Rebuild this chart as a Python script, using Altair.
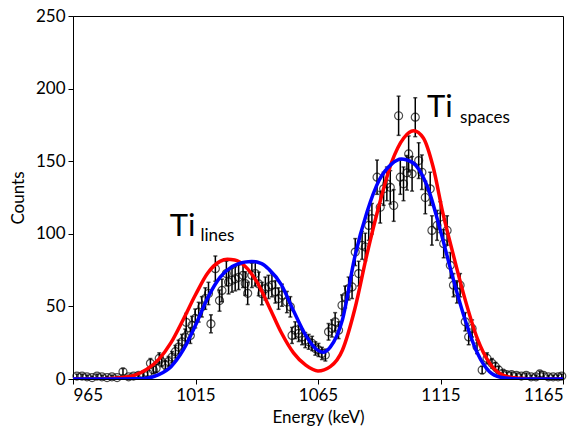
import altair as alt
import pandas as pd

# ---- measured data points (energy keV, counts, error) ----
energy = [966.6, 968.7, 970.7, 972.8, 974.8, 976.8, 978.9, 980.9, 983.0, 985.4,
          987.7, 989.7, 991.8, 993.8, 995.5, 996.6, 997.8, 998.9, 1000.2, 1001.2,
          1002.7, 1004.0, 1005.4, 1006.8, 1008.1, 1009.5, 1010.8, 1011.2, 1012.9, 1013.6,
          1014.9, 1016.3, 1017.6, 1019.0, 1020.3, 1021.3, 1023.1, 1024.8, 1025.8, 1027.6,
          1028.5, 1029.9, 1031.2, 1032.6, 1034.4, 1035.3, 1036.3, 1038.0, 1039.4, 1040.8,
          1042.1, 1043.5, 1044.8, 1046.2, 1047.6, 1048.9, 1050.3, 1052.3, 1053.7, 1054.4,
          1055.7, 1057.1, 1058.5, 1059.8, 1061.2, 1062.6, 1063.9, 1065.2, 1066.6, 1068.0,
          1069.3, 1070.7, 1072.0, 1073.4, 1074.8, 1076.1, 1077.5, 1078.9, 1080.2, 1081.6,
          1083.0, 1084.3, 1085.7, 1087.0, 1089.1, 1090.4, 1091.8, 1093.1, 1094.5, 1095.9,
          1097.9, 1098.6, 1099.9, 1101.3, 1102.0, 1103.4, 1104.7, 1106.1, 1107.4, 1108.8,
          1110.8, 1111.5, 1113.6, 1114.9, 1116.3, 1117.7, 1119.0, 1120.3, 1121.7, 1123.0,
          1125.1, 1126.5, 1127.9, 1129.9, 1132.0, 1134.0, 1136.0, 1137.4, 1138.7, 1140.5,
          1142.0, 1144.0, 1146.0, 1148.0, 1150.0, 1152.0, 1154.0, 1155.5, 1157.0, 1159.0,
          1161.0, 1163.0, 1164.5]
counts = [2.0, 2.0, 1.5, 1.0, 2.0, 1.5, 1.0, 1.5, 1.0, 5.0,
          1.5, 2.0, 2.5, 3.0, 4.0, 10.8, 6.2, 7.3, 14.2, 11.9,
          9.6, 12.0, 15.0, 18.8, 22.0, 25.6, 29.0, 39.0, 30.0, 37.0,
          41.7, 46.0, 49.7, 55.4, 58.9, 38.0, 76.0, 54.0, 61.0, 72.6,
          66.8, 68.0, 69.0, 70.0, 71.4, 65.7, 59.0, 71.4, 72.6, 65.5,
          58.8, 62.3, 63.4, 64.6, 60.0, 55.4, 57.7, 53.0, 49.7, 30.0,
          33.6, 31.4, 29.0, 26.8, 25.6, 24.5, 21.0, 20.0, 17.6, 16.5,
          32.5, 34.8, 39.4, 33.6, 50.8, 56.5, 62.3, 63.4, 87.4, 72.6,
          92.0, 90.9, 105.8, 110.4, 139.0, 118.3, 131.0, 134.4, 132.0, 119.5,
          181.3, 139.0, 134.4, 142.0, 155.0, 141.3, 180.3, 150.4, 142.4, 125.0,
          131.0, 102.3, 105.8, 111.5, 93.2, 102.3, 78.3, 64.6, 60.0, 64.6,
          39.4, 29.0, 34.8, 22.2, 6.2, 14.2, 10.8, 8.5, 6.2, 4.0,
          3.0, 3.0, 2.5, 2.0, 2.5, 1.5, 1.5, 3.5, 2.5, 1.5,
          1.5, 1.5, 2.0]
errors = [1.4, 1.4, 1.2, 1.0, 1.4, 1.2, 1.0, 1.2, 1.0, 2.2,
          1.2, 1.4, 1.6, 1.7, 2.0, 3.3, 2.5, 2.7, 3.8, 3.4,
          3.1, 3.5, 3.9, 4.3, 4.7, 5.1, 5.4, 6.2, 5.5, 6.1,
          6.5, 6.8, 7.0, 7.4, 7.7, 6.2, 8.7, 7.3, 7.8, 8.5,
          8.2, 8.2, 8.3, 8.4, 8.4, 8.1, 7.7, 8.4, 8.5, 8.1,
          7.7, 7.9, 8.0, 8.0, 7.7, 7.4, 7.6, 7.3, 7.0, 5.5,
          5.8, 5.6, 5.4, 5.2, 5.1, 4.9, 4.6, 4.5, 4.2, 4.1,
          5.7, 5.9, 6.3, 5.8, 7.1, 7.5, 7.9, 8.0, 9.3, 8.5,
          9.6, 9.5, 10.3, 10.5, 11.8, 10.9, 11.4, 11.6, 11.5, 10.9,
          13.5, 11.8, 11.6, 11.9, 12.4, 11.9, 13.4, 12.3, 11.9, 11.2,
          11.4, 10.1, 10.3, 10.6, 9.7, 10.1, 8.8, 8.0, 7.7, 8.0,
          6.3, 5.4, 5.9, 4.7, 2.5, 3.8, 3.3, 2.9, 2.5, 2.0,
          1.7, 1.7, 1.6, 1.4, 1.6, 1.2, 1.2, 1.9, 1.6, 1.2,
          1.2, 1.2, 1.4]

# ---- fit curves ----
red_x = [965, 975, 980, 985, 990, 995, 1000, 1005, 1010, 1015, 1020, 1025, 1028,
         1031, 1035, 1040, 1045, 1050, 1055, 1060, 1065, 1070, 1075, 1080, 1085,
         1090, 1095, 1100, 1104, 1108, 1112, 1116, 1120, 1125, 1130, 1135, 1140,
         1145, 1150, 1155, 1165]
red_y = [0, 0, 0.3, 1, 2.5, 6.5, 13.5, 25, 41, 58, 73, 81, 82.5,
         82, 78, 67, 50, 32, 18, 9.5, 5.5, 8.5, 20, 48, 86,
         120, 149, 166, 171, 166, 146, 114, 87, 55, 28, 11, 3,
         0.8, 0.2, 0, 0]
blue_x = [965, 985, 990, 995, 1000, 1005, 1010, 1015, 1020, 1025, 1030, 1035, 1038,
          1042, 1045, 1050, 1055, 1060, 1064, 1067, 1070, 1075, 1080, 1085, 1090,
          1095, 1099, 1101, 1105, 1110, 1115, 1120, 1125, 1130, 1135, 1140, 1145,
          1150, 1165]
blue_y = [0, 0, 0.1, 0.5, 3, 8.5, 20, 37, 56, 70, 77.5, 80.5, 81,
          79.5, 75.5, 65, 47, 30, 21, 18.5, 22, 41, 84, 115, 137,
          148, 151.5, 151, 147, 131, 102, 70, 41, 18, 5, 1, 0.2,
          0, 0]

# ---- annotations ----
ann_main = ["Ti", "Ti"]
ann_main_x = [1004.5, 1109.5]
ann_main_y = [98.5, 180.5]
ann_sub = ["lines", "spaces"]
ann_sub_x = [1017.0, 1123.0]
ann_sub_y = [95.0, 176.5]

FONT = "Lato"

pts = pd.DataFrame({"E": energy, "C": counts, "err": errors})
pts["lo"] = pts["C"] - pts["err"]
pts["hi"] = pts["C"] + pts["err"]
red = pd.DataFrame({"E": red_x, "C": red_y})
blue = pd.DataFrame({"E": blue_x, "C": blue_y})
main = pd.DataFrame({"E": ann_main_x, "C": ann_main_y, "t": ann_main})
sub = pd.DataFrame({"E": ann_sub_x, "C": ann_sub_y, "t": ann_sub})

xs = alt.Scale(domain=[965, 1165], nice=False, zero=False)
ys = alt.Scale(domain=[0, 250], nice=False)

xax = alt.Axis(values=[965, 1015, 1065, 1115, 1165], format="d", title="Energy (keV)",
               grid=False, tickSize=5, labelPadding=3, titlePadding=6,
               labelFont=FONT, titleFont=FONT, labelFontSize=17, titleFontSize=17,
               titleFontWeight="normal", labelColor="black", titleColor="black",
               domainColor="black", tickColor="black")
yax = alt.Axis(values=[0, 50, 100, 150, 200, 250], title="Counts", grid=False,
               tickSize=5, labelPadding=3, titlePadding=8,
               labelFont=FONT, titleFont=FONT, labelFontSize=17, titleFontSize=17,
               titleFontWeight="normal", labelColor="black", titleColor="black",
               domainColor="black", tickColor="black")

X = alt.X("E:Q", scale=xs, axis=xax)
Xn = alt.X("E:Q", scale=xs)

bars = alt.Chart(pts).mark_rule(color="black", strokeWidth=1.5).encode(
    x=X, y=alt.Y("lo:Q", scale=ys, axis=yax), y2="hi:Q")
cap_hi = alt.Chart(pts).mark_tick(color="black", orient="horizontal", size=4, thickness=1.5).encode(
    x=Xn, y=alt.Y("hi:Q", scale=ys))
cap_lo = alt.Chart(pts).mark_tick(color="black", orient="horizontal", size=4, thickness=1.5).encode(
    x=Xn, y=alt.Y("lo:Q", scale=ys))
circles = alt.Chart(pts).mark_point(shape="circle", filled=False, color="black",
                                    size=64, strokeWidth=1.2).encode(x=Xn, y=alt.Y("C:Q", scale=ys))
red_line = alt.Chart(red).mark_line(color="#ff0000", strokeWidth=3.5, interpolate="monotone",
                                    clip=True).encode(x=Xn, y=alt.Y("C:Q", scale=ys))
blue_line = alt.Chart(blue).mark_line(color="#0000ff", strokeWidth=3.5, interpolate="monotone",
                                      clip=True).encode(x=Xn, y=alt.Y("C:Q", scale=ys))
main_txt = alt.Chart(main).mark_text(align="left", baseline="alphabetic", font=FONT,
                                     fontSize=31, color="black").encode(
    x=Xn, y=alt.Y("C:Q", scale=ys), text="t:N")
sub_txt = alt.Chart(sub).mark_text(align="left", baseline="alphabetic", font=FONT,
                                   fontSize=17, color="black").encode(
    x=Xn, y=alt.Y("C:Q", scale=ys), text="t:N")

chart = alt.layer(bars, cap_hi, cap_lo, circles, red_line, blue_line, main_txt, sub_txt).properties(
    width=490, height=363,
    background="white",
    autosize=alt.AutoSizeParams(type="none"),
    padding={"left": 65, "top": 8, "right": 14, "bottom": 50},
).configure_view(stroke="black", strokeWidth=1)

chart.save("out.html", embed_options={"renderer": "svg", "actions": False})
